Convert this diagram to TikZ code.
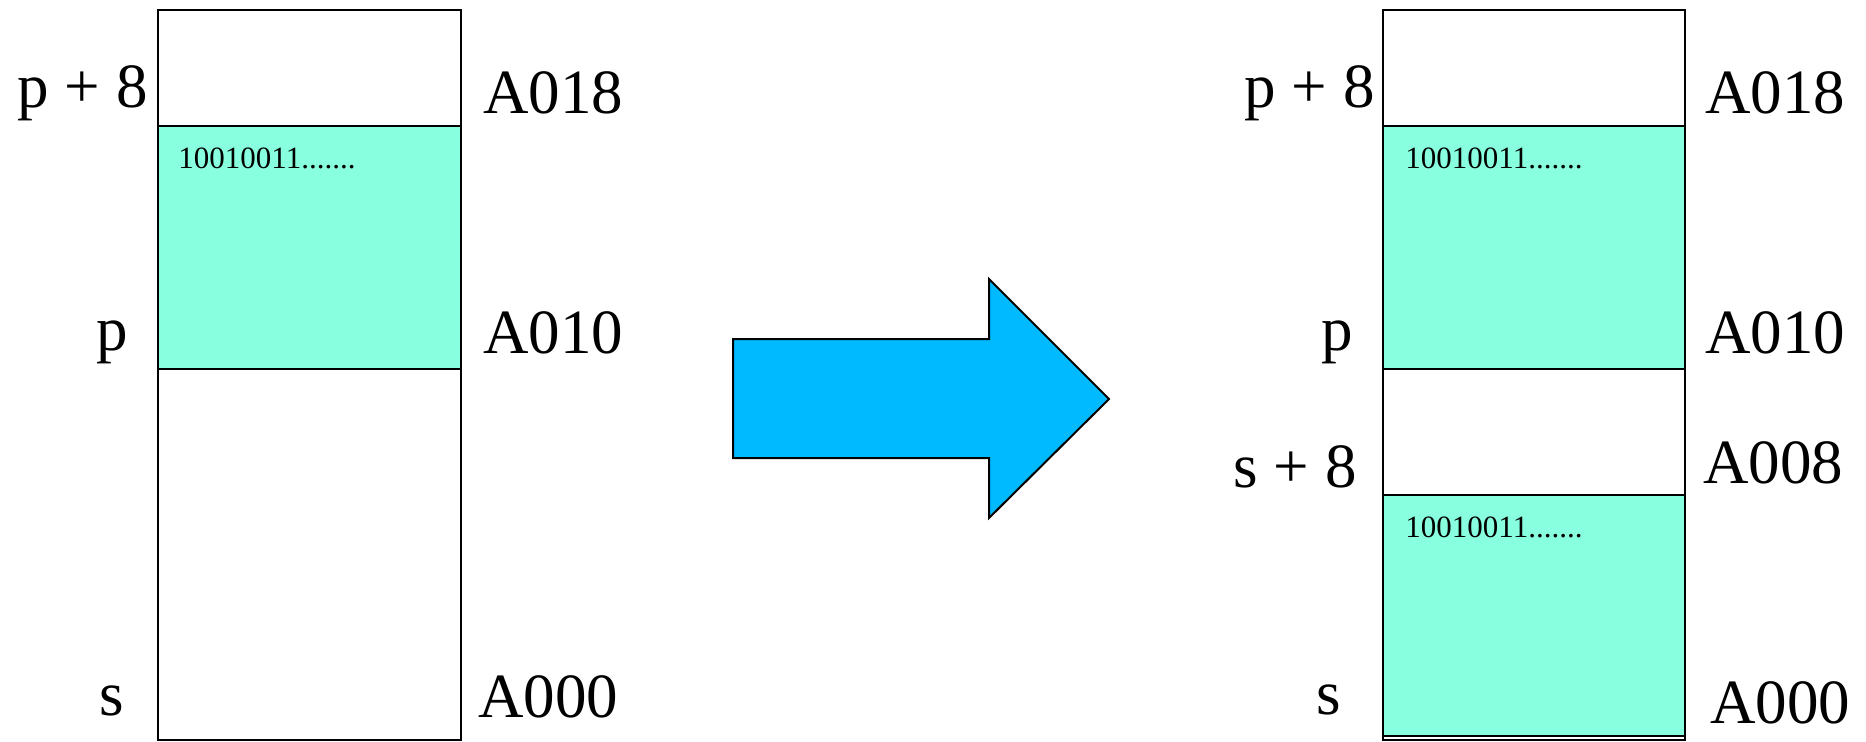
\documentclass[tikz,border=0pt]{standalone}
\usepackage{fontspec}
\setmainfont{Liberation Serif}
\usetikzlibrary{positioning}
\definecolor{cellfill}{RGB}{136,255,222}
\definecolor{arrowfill}{RGB}{0,186,255}
\tikzset{
  addr/.style={font=\fontsize{31.5}{36}\selectfont, inner sep=0pt},
  bits/.style={font=\fontsize{15.5}{18}\selectfont, inner sep=0pt, anchor=base west},
  memline/.style={line width=1.3pt}
}

\begin{document}
\begin{tikzpicture}[x=0.5pt,y=0.5pt,yscale=-1]
\useasboundingbox (0,0) rectangle (1866,741);
% left memory
\draw [memline, fill=cellfill] (158,126) -- (461,126) -- (461,369) -- (158,369) -- cycle ;
\draw [memline] (158,10) -- (461,10) -- (461,740) -- (158,740) -- cycle ;
% right memory
\draw [memline, fill=cellfill] (1383,126) -- (1685,126) -- (1685,369) -- (1383,369) -- cycle ;
\draw [memline, fill=cellfill] (1383,495) -- (1685,495) -- (1685,736) -- (1383,736) -- cycle ;
\draw [memline] (1383,10) -- (1685,10) -- (1685,740) -- (1383,740) -- cycle ;
% block arrow
\draw [line width=1pt, fill=arrowfill] (733,339) -- (989,339) -- (989,279) -- (1109,399) -- (989,518) -- (989,458) -- (733,458) -- cycle ;
% Text Node
\node [bits] (lbits) at (178,168) {10010011.......};
\node [bits] (rbitsp) at (1405,168) {10010011.......};
\node [bits] (rbitss) at (1405,537) {10010011.......};
% Text Node
\node [addr, anchor=base east] (lp8) at (148,107) {p + 8};
\node [addr, anchor=base east] (lp) at (128,350) {p};
\node [addr, anchor=base east] (ls) at (124,715) {s};
\node [addr, anchor=base west] (la018) at (483,113) {A018};
\node [addr, anchor=base west] (la010) at (483,353) {A010};
\node [addr, anchor=base west] (la000) at (478,717) {A000};
% Text Node
\node [addr, anchor=base east] (rp8) at (1375,107) {p + 8};
\node [addr, anchor=base east] (rp) at (1353,350) {p};
\node [addr, anchor=base east] (rs8) at (1357,487) {s + 8};
\node [addr, anchor=base east] (rs) at (1341,714) {s};
\node [addr, anchor=base west] (ra018) at (1705,113) {A018};
\node [addr, anchor=base west] (ra010) at (1705,353) {A010};
\node [addr, anchor=base west] (ra008) at (1703,483) {A008};
\node [addr, anchor=base west] (ra000) at (1710,723) {A000};
\end{tikzpicture}
\end{document}
